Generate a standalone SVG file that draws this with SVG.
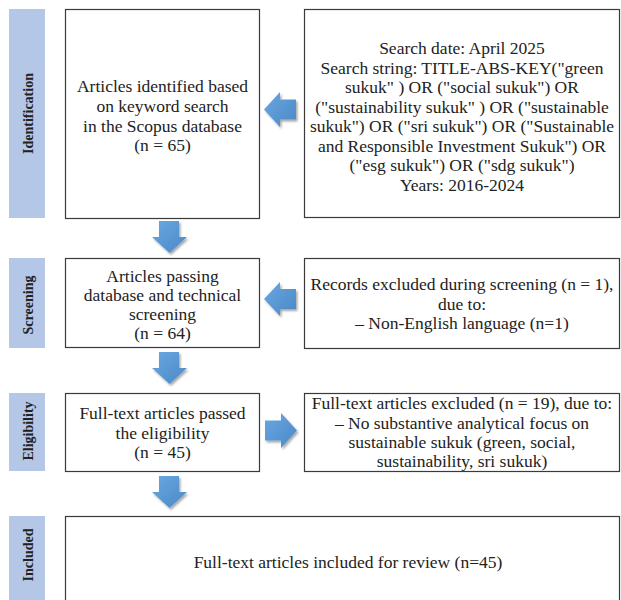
<svg xmlns="http://www.w3.org/2000/svg" width="621" height="600" viewBox="0 0 621 600">
<defs>
<linearGradient id="ag" x1="0" y1="0" x2="1" y2="1">
<stop offset="0" stop-color="#6aa8e0"/>
<stop offset="1" stop-color="#4a88c8"/>
</linearGradient>
<filter id="sh" x="-30%" y="-30%" width="160%" height="160%">
<feDropShadow dx="1.5" dy="2" stdDeviation="1.2" flood-color="#000" flood-opacity="0.35"/>
</filter>
<style>
.bar{fill:#b4c7e7}
.lab{font-family:"Liberation Serif","Times New Roman",serif;font-weight:bold;font-size:14px;fill:#222;text-anchor:middle;dominant-baseline:central}
.box{fill:#fff;stroke:#3a3a3a;stroke-width:1.2}
.t{font-family:"Liberation Serif","Times New Roman",serif;font-size:17.5px;fill:#222;text-anchor:middle}
.arr{fill:url(#ag);filter:url(#sh)}
</style>
</defs>
<rect width="621" height="600" fill="#fff"/>

<g id="stage-identification">
<rect class="bar" x="9" y="9" width="36" height="209"/>
<text class="lab" transform="translate(28,113.5) rotate(-90)">Identification</text>
</g>
<g id="stage-screening">
<rect class="bar" x="9" y="258" width="36" height="90"/>
<text class="lab" transform="translate(28,305) rotate(-90)">Screening</text>
</g>
<g id="stage-eligibility">
<rect class="bar" x="9" y="393" width="36" height="78"/>
<text class="lab" transform="translate(28,431) rotate(-90)">Eligibility</text>
</g>
<g id="stage-included">
<rect class="bar" x="9" y="516" width="36" height="90"/>
<text class="lab" transform="translate(28,555) rotate(-90)">Included</text>
</g>

<g id="identified">
<rect class="box" x="65.5" y="9.5" width="194" height="209"/>
<text class="t" x="162.5" y="92">Articles identified based</text>
<text class="t" x="162.5" y="112">on keyword search</text>
<text class="t" x="162.5" y="132">in the Scopus database</text>
<text class="t" x="162.5" y="151">(n = 65)</text>
</g>
<g id="search">
<rect class="box" x="304.5" y="9.5" width="315" height="208"/>
<text class="t" x="462" y="54">Search date: April 2025</text>
<text class="t" x="462" y="73.5">Search string: TITLE-ABS-KEY("green</text>
<text class="t" x="462" y="93">sukuk" ) OR ("social sukuk") OR</text>
<text class="t" x="462" y="112.5">("sustainability sukuk" ) OR ("sustainable</text>
<text class="t" x="462" y="132">sukuk") OR ("sri sukuk") OR ("Sustainable</text>
<text class="t" x="462" y="151.5">and Responsible Investment Sukuk") OR</text>
<text class="t" x="462" y="171">("esg sukuk") OR ("sdg sukuk")</text>
<text class="t" x="462" y="190.5">Years: 2016-2024</text>
</g>
<g id="screened">
<rect class="box" x="65.5" y="258.5" width="194" height="89"/>
<text class="t" x="162.5" y="282">Articles passing</text>
<text class="t" x="162.5" y="301">database and technical</text>
<text class="t" x="162.5" y="320">screening</text>
<text class="t" x="162.5" y="339">(n = 64)</text>
</g>
<g id="excluded-screening">
<rect class="box" x="304.5" y="258.5" width="315" height="90"/>
<text class="t" x="462" y="290">Records excluded during screening (n = 1),</text>
<text class="t" x="462" y="310">due to:</text>
<text class="t" x="462" y="329">– Non-English language (n=1)</text>
</g>
<g id="eligible">
<rect class="box" x="65.5" y="393.5" width="194" height="78"/>
<text class="t" x="162.5" y="419">Full-text articles passed</text>
<text class="t" x="162.5" y="439">the eligibility</text>
<text class="t" x="162.5" y="458">(n = 45)</text>
</g>
<g id="excluded-eligibility">
<rect class="box" x="304.5" y="393.5" width="315" height="78"/>
<text class="t" x="462" y="409">Full-text articles excluded (n = 19), due to:</text>
<text class="t" x="462" y="429">– No substantive analytical focus on</text>
<text class="t" x="462" y="448">sustainable sukuk (green, social,</text>
<text class="t" x="462" y="467">sustainability, sri sukuk)</text>
</g>
<g id="included">
<rect class="box" x="65.5" y="516.5" width="554" height="100"/>
<text class="t" x="348" y="568">Full-text articles included for review (n=45)</text>
</g>

<g id="connectors">
<path class="arr" d="M296,99.5 L280,99.5 L280,92 L264,109.5 L280,127 L280,119.5 L296,119.5 Z"/>
<path class="arr" d="M296,289 L280,289 L280,282 L264,299 L280,316 L280,309 L296,309 Z"/>
<path class="arr" d="M265,420.5 L281,420.5 L281,413 L297,430.5 L281,448 L281,440.5 L265,440.5 Z"/>
<path class="arr" d="M159,221 L179,221 L179,237 L187,237 L169.5,253 L152,237 L159,237 Z"/>
<path class="arr" d="M159,352 L179,352 L179,368 L187,368 L169.5,384 L152,368 L159,368 Z"/>
<path class="arr" d="M159,476 L179,476 L179,492 L187,492 L169.5,508 L152,492 L159,492 Z"/>
</g>
</svg>
